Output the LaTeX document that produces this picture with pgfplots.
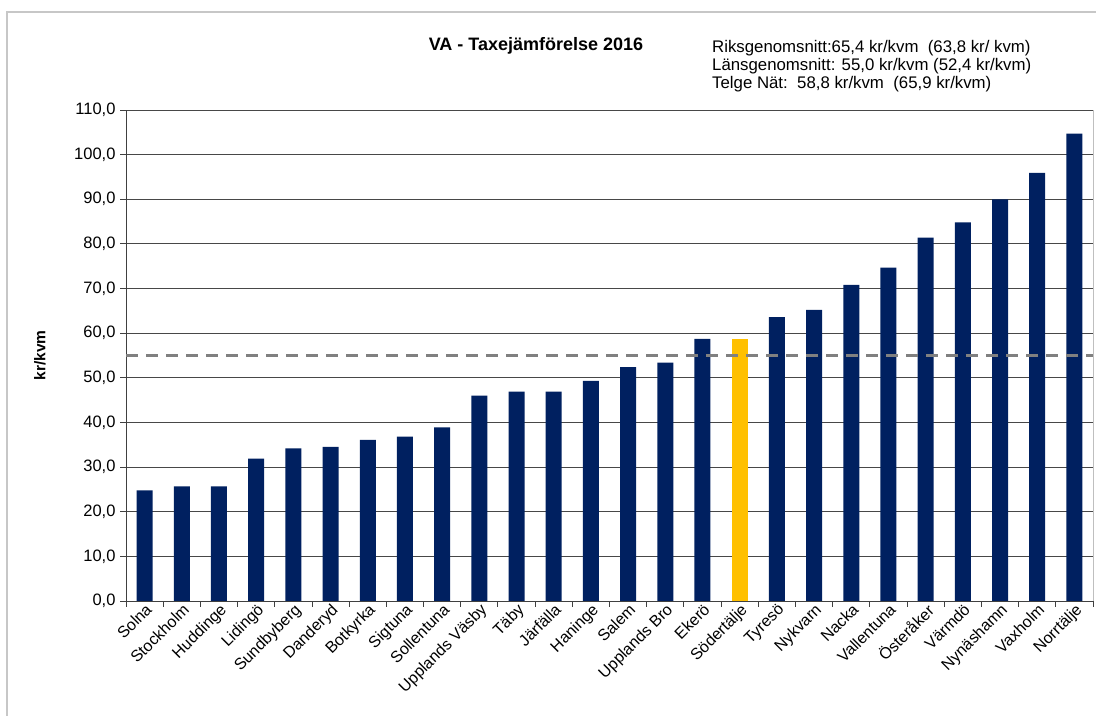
\documentclass[border=0pt]{standalone}
\usepackage{fontspec}
\setmainfont{Liberation Sans}
\usepackage{pgfplots}
\pgfplotsset{compat=1.18}
\definecolor{navy}{HTML}{002060}
\definecolor{gold}{HTML}{FFC000}
\begin{document}
\begin{tikzpicture}[x=1bp,y=1bp]
\path[use as bounding box] (0,0) rectangle (1096,716);
\draw[black!22, line width=1.5bp] (7,0) -- (7,704) -- (1096,704);
\begin{axis}[
  at={(126bp,115bp)}, anchor=south west, scale only axis,
  width=967bp, height=491bp,
  xmin=-0.5, xmax=25.5, ymin=0, ymax=110,
  ytick={0,10,...,110},
  ymajorgrids, grid style={black!72, line width=0.9bp},
  axis x line*=bottom, axis y line*=left,
  axis line style={black!75, line width=0.9bp},
  tick style={black!75, line width=0.9bp},
  tick align=outside, major tick length=6bp,
  xtick={-0.5,0.5,...,25.5}, xticklabels={},
  extra x ticks={0,1,...,25},
  extra x tick labels={Solna,Stockholm,Huddinge,Lidingö,Sundbyberg,Danderyd,Botkyrka,Sigtuna,Sollentuna,Upplands Väsby,Täby,Järfälla,Haninge,Salem,Upplands Bro,Ekerö,Södertälje,Tyresö,Nykvarn,Nacka,Vallentuna,Österåker,Värmdö,Nynäshamn,Vaxholm,Norrtälje},
  extra x tick style={major tick length=0pt, grid=none},
  xticklabel style={rotate=45, anchor=north east, inner sep=1bp, font=\fontsize{16bp}{18bp}\selectfont},
  yticklabel style={font=\fontsize{16.5bp}{19bp}\selectfont, xshift=-1bp},
  /pgf/number format/.cd, fixed, fixed zerofill, precision=1, use comma, assume math mode=true,
  /pgfplots/.cd,
  ylabel={kr/kvm},
  ylabel style={at={(axis description cs:-0.089,0.5)}, anchor=center, font=\bfseries\fontsize{15.5bp}{18bp}\selectfont},
  clip=false,
]
\addplot[ybar, bar width=16bp, bar shift=0pt, fill=navy, draw=none] coordinates {
(0,24.8) (1,25.7) (2,25.7) (3,31.9) (4,34.2) (5,34.5) (6,36.1) (7,36.8) (8,38.9)
(9,46.0) (10,46.9) (11,46.9) (12,49.3) (13,52.4) (14,53.4) (15,58.7)
(17,63.6) (18,65.2) (19,70.8) (20,74.7) (21,81.4) (22,84.8) (23,90.0) (24,95.9) (25,104.7)
};
\addplot[ybar, bar width=16bp, bar shift=0pt, fill=gold, draw=none] coordinates {(16,58.8)};
\addplot[black!50, line width=3bp, dash pattern=on 12bp off 8bp] coordinates {(-0.5,55.0) (25.5,55.0)};
\draw[black!25, line width=1bp] (axis cs:25.5,0) -- (axis cs:25.5,110);
\end{axis}
\node[font=\bfseries\fontsize{18bp}{21bp}\selectfont, anchor=base] at (536,665) {VA - Taxejämförelse 2016};
\node[font=\fontsize{16.8bp}{19bp}\selectfont, anchor=base west, inner sep=0pt] at (712,663) {Riksgenomsnitt:65,4 kr/kvm\ \ (63,8 kr/ kvm)};
\node[font=\fontsize{16.8bp}{19bp}\selectfont, anchor=base west, inner sep=0pt] at (712,645) {Länsgenomsnitt: 55,0 kr/kvm (52,4 kr/kvm)};
\node[font=\fontsize{16.8bp}{19bp}\selectfont, anchor=base west, inner sep=0pt] at (712,627) {Telge Nät:\ \ 58,8 kr/kvm\ \ (65,9 kr/kvm)};
\end{tikzpicture}
\end{document}
